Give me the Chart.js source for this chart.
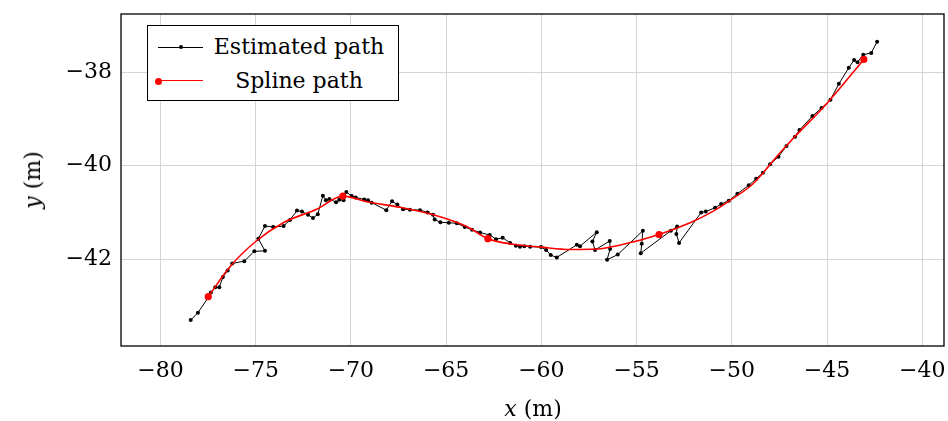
<!DOCTYPE html>
<html>
<head>
<meta charset="utf-8">
<script src="https://cdn.jsdelivr.net/npm/chart.js@4/dist/chart.umd.min.js"></script>
<style>
  html, body { margin: 0; padding: 0; background: #fff; }
  #wrap { position: relative; width: 948px; height: 421px; font-family: "DejaVu Serif", serif; color: #000; }
  #c { position: absolute; left: 0; top: 0; }
  .title { position: absolute; font-size: 22px; white-space: nowrap; line-height: 1; }
  #xt { left: 533px; top: 409px; transform: translate(-50%, -50%); }
  #yt { left: 33px; top: 180px; transform: translate(-50%, -50%) rotate(-90deg); }
  #legend { position: absolute; left: 147px; top: 25px; width: 252px; height: 76px; border: 1.3px solid #000; background: #fff; box-sizing: border-box; }
  .lrow { position: absolute; left: 0; width: 100%; height: 34px; }
  .lline { position: absolute; left: 10px; width: 45px; top: 50%; height: 0; }
  .ldot { position: absolute; border-radius: 50%; }
  .ltext { position: absolute; left: 62px; width: 178px; top: 50%; transform: translateY(-50%); text-align: center; font-size: 22px; line-height: 1; white-space: nowrap; }
</style>
</head>
<body>
<div id="wrap">
  <canvas id="c" width="948" height="421"></canvas>
  <div class="title" id="xt"><i>x</i> (m)</div>
  <div class="title" id="yt"><i>y</i> (m)</div>
  <div id="legend">
    <div class="lrow" style="top:4px">
      <div class="lline" style="border-top:1px solid #000; margin-top:-0.5px"></div>
      <div class="ldot" style="left:31px; top:50%; width:4px; height:4px; margin-top:-2px; background:#000"></div>
      <div class="ltext" id="l1"></div>
    </div>
    <div class="lrow" style="top:38px">
      <div class="lline" style="border-top:1.6px solid #ff0000; margin-top:-0.8px"></div>
      <div class="ldot" style="left:7px; top:50%; width:7px; height:7px; margin-top:-3.5px; background:#ff0000"></div>
      <div class="ltext" id="l2"></div>
    </div>
  </div>
</div>
<script>
// ---- data ----
const seriesNames = ["Estimated path", "Spline path"];

const estX = [-78.41, -78.03, -77.51, -77.35, -77.12, -76.91, -76.72, -76.47, -76.23, -75.60,
  -75.07, -74.51, -74.86, -74.51, -74.08, -73.53, -73.20, -72.83, -72.57, -72.25,
  -71.99, -71.74, -71.47, -71.31, -71.13, -70.78, -70.61, -70.38, -70.24, -69.96,
  -69.75, -69.30, -69.10, -68.91, -68.14, -67.84, -67.56, -67.26, -66.90, -66.37,
  -65.97, -65.69, -65.60, -65.30, -64.86, -64.44, -64.02, -63.64, -63.22, -62.71,
  -62.38, -62.03, -61.64, -61.34, -61.12, -60.89, -60.59, -60.02, -59.75, -59.51,
  -59.19, -58.14, -57.97, -57.09, -57.32, -57.18, -56.41, -56.39, -56.55, -55.99,
  -54.67, -54.73, -54.78, -53.20, -52.87, -52.91, -52.77, -51.61, -51.37, -50.88,
  -50.56, -50.16, -49.71, -49.11, -48.72, -48.37, -47.99, -47.55, -47.13, -46.68,
  -46.45, -45.77, -45.29, -44.82, -44.38, -43.86, -43.58, -43.40, -43.10, -42.68,
  -42.37];
const estY = [-43.30, -43.14, -42.83, -42.71, -42.60, -42.60, -42.38, -42.24, -42.09, -42.04,
  -41.83, -41.82, -41.56, -41.29, -41.31, -41.29, -41.16, -40.96, -40.98, -41.05,
  -41.12, -41.04, -40.64, -40.74, -40.71, -40.78, -40.73, -40.74, -40.56, -40.65,
  -40.68, -40.72, -40.74, -40.79, -40.95, -40.76, -40.83, -40.93, -40.94, -40.95,
  -41.00, -41.05, -41.15, -41.21, -41.22, -41.23, -41.31, -41.37, -41.43, -41.48,
  -41.57, -41.54, -41.65, -41.71, -41.73, -41.72, -41.73, -41.74, -41.80, -41.91,
  -41.96, -41.69, -41.72, -41.42, -41.62, -41.80, -41.61, -41.78, -42.01, -41.90,
  -41.39, -41.67, -41.87, -41.39, -41.30, -41.46, -41.65, -41.00, -40.98, -40.90,
  -40.82, -40.75, -40.60, -40.42, -40.28, -40.15, -39.97, -39.81, -39.58, -39.38,
  -39.24, -38.94, -38.77, -38.59, -38.25, -37.91, -37.74, -37.79, -37.63, -37.59,
  -37.35];

const splineX = [-77.49, -76.35, -75.00, -73.55, -71.80, -70.42, -69.17, -67.42, -65.67, -63.92,
  -62.81, -61.47, -60.02, -58.49, -57.09, -55.69, -53.82, -52.19, -50.97, -50.05,
  -48.87, -47.57, -46.76, -45.01, -43.07];
const splineY = [-42.80, -42.16, -41.62, -41.22, -40.93, -40.65, -40.77, -40.89, -41.05, -41.30,
  -41.56, -41.68, -41.74, -41.79, -41.78, -41.68, -41.47, -41.22, -40.97, -40.73,
  -40.38, -39.77, -39.41, -38.67, -37.73];

const knotX = [-77.49, -70.42, -62.81, -53.82, -43.07];
const knotY = [-42.80, -40.65, -41.56, -41.47, -37.73];

const xTickValues = [-80, -75, -70, -65, -60, -55, -50, -45, -40];
const yTickValues = [-42, -40, -38];

// ---- build ----
const zip = (xs, ys) => xs.map((x, i) => ({ x: x, y: ys[i] }));
const fmt = v => String(v).replace('-', '\u2212');
document.getElementById('l1').textContent = seriesNames[0];
document.getElementById('l2').textContent = seriesNames[1];

const frame = {
  id: 'frame',
  afterDatasetsDraw(chart) {
    const a = chart.chartArea, ctx = chart.ctx;
    ctx.save();
    ctx.strokeStyle = '#000';
    ctx.lineWidth = 1.3;
    ctx.strokeRect(a.left, a.top, a.right - a.left, a.bottom - a.top);
    ctx.restore();
  }
};

const tickFont = { family: '"DejaVu Serif", serif', size: 22 };
const noPad = s => { s.paddingLeft = 0; s.paddingRight = 0; s.paddingTop = 0; s.paddingBottom = 0; };

new Chart(document.getElementById('c'), {
  type: 'scatter',
  data: {
    datasets: [
      {
        label: seriesNames[0], data: zip(estX, estY), showLine: true,
        borderColor: '#000', backgroundColor: '#000', borderWidth: 1,
        pointRadius: 2, pointBorderWidth: 0, tension: 0, order: 3
      },
      {
        label: seriesNames[1], data: zip(splineX, splineY), showLine: true,
        borderColor: '#ff0000', backgroundColor: '#ff0000', borderWidth: 1.6,
        pointRadius: 0, tension: 0.35, cubicInterpolationMode: 'monotone', order: 2
      },
      {
        label: seriesNames[1] + ' knots', data: zip(knotX, knotY), showLine: false,
        borderColor: '#ff0000', backgroundColor: '#ff0000',
        pointRadius: 3.6, pointBorderWidth: 0, order: 1
      }
    ]
  },
  options: {
    responsive: false,
    animation: false,
    devicePixelRatio: 1,
    layout: { padding: { left: 0, top: 14, right: 4, bottom: 0 } },
    plugins: { legend: { display: false }, tooltip: { enabled: false } },
    scales: {
      x: {
        type: 'linear', min: -82.07, max: -38.86,
        afterBuildTicks: s => { s.ticks = xTickValues.map(v => ({ value: v })); },
        afterFit: s => { s.height = 75; noPad(s); },
        grid: { color: '#d4d4d4', lineWidth: 1, drawTicks: false },
        border: { display: false },
        ticks: { color: '#000', font: tickFont, padding: 12, maxRotation: 0, callback: v => fmt(v) }
      },
      y: {
        type: 'linear', min: -43.853, max: -36.759,
        afterBuildTicks: s => { s.ticks = yTickValues.map(v => ({ value: v })); },
        afterFit: s => { s.width = 121; noPad(s); },
        grid: { color: '#d4d4d4', lineWidth: 1, drawTicks: false },
        border: { display: false },
        ticks: { color: '#000', font: tickFont, padding: 9, callback: v => fmt(v) }
      }
    }
  },
  plugins: [frame]
});
</script>
</body>
</html>
